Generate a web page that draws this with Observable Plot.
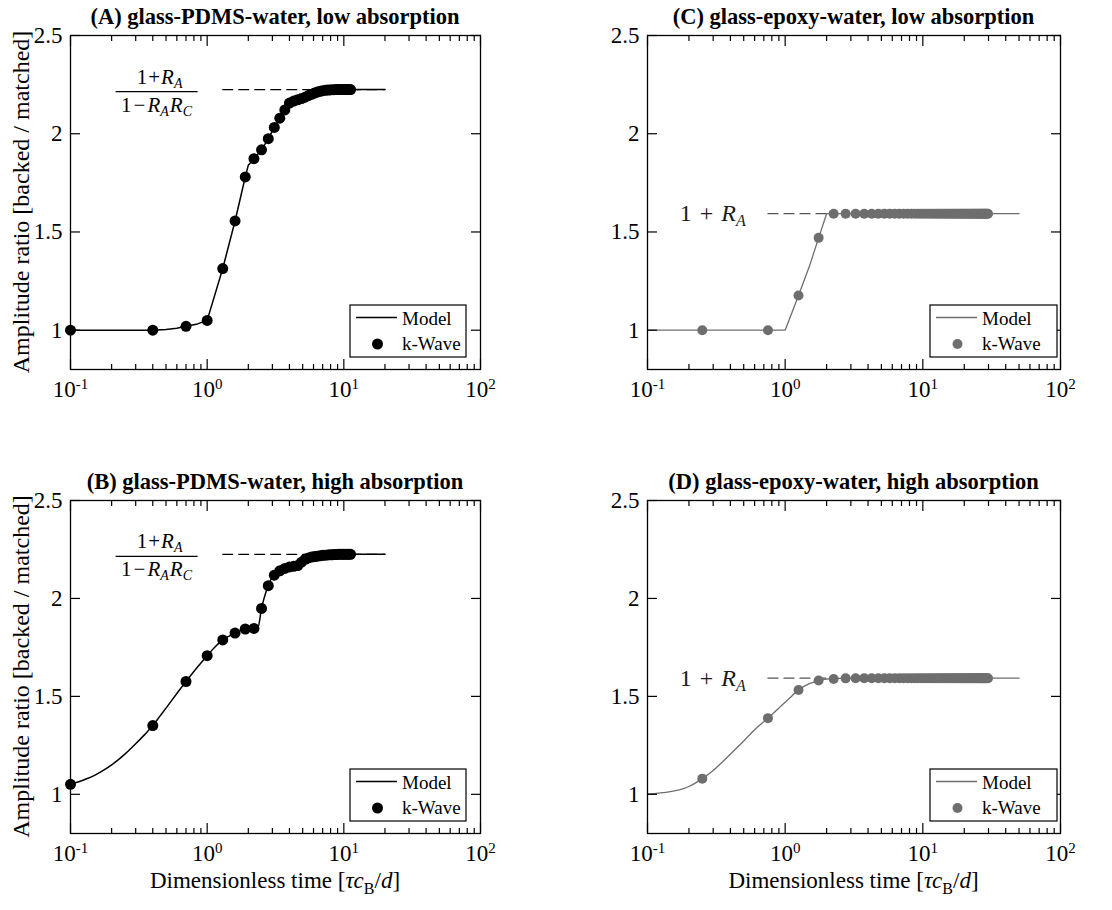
<!DOCTYPE html>
<html>
<head>
<meta charset="utf-8">
<script src="https://cdn.jsdelivr.net/npm/d3@7"></script>
<script src="https://cdn.jsdelivr.net/npm/@observablehq/plot@0.6"></script>
<style>
html,body{margin:0;padding:0;background:#fff;}
#fig{position:relative;width:1112px;height:910px;overflow:hidden;background:#fff;}
#fig svg{position:absolute;overflow:visible;}
#fig svg text{font-family:"Liberation Serif","Times New Roman",Times,serif;}
</style>
</head>
<body>
<div id="fig"></div>
<script>
// ---------- axis ticks / labels ----------
const xTicksMajor = [0.1, 1, 10, 100];
const xTickExponents = ["-1", "0", "1", "2"];
const xTicksMinor = [0.2,0.3,0.4,0.5,0.6,0.7,0.8,0.9,2,3,4,5,6,7,8,9,20,30,40,50,60,70,80,90];
const yTicks = [1, 1.5, 2, 2.5];
const yTickLabels = ["1", "1.5", "2", "2.5"];
const titles = [
  "(A) glass-PDMS-water, low absorption",
  "(B) glass-PDMS-water, high absorption",
  "(C) glass-epoxy-water, low absorption",
  "(D) glass-epoxy-water, high absorption"
];
const legendLabels = ["Model", "k-Wave"];
const yAxisLabel = "Amplitude ratio [backed / matched]";

// ---------- PDMS (A, B): k-Wave points ----------
const kWaveX_PDMS = [0.1,0.4,0.7,1.0,1.3,1.6,1.9,2.2,2.5,2.8,3.1,3.4,3.7,4.0,4.3,4.6,4.9,5.2,5.5,5.8,6.1,6.4,6.7,7.0,7.3,7.6,7.9,8.2,8.5,8.8,9.1,9.4,9.7,10.0,10.3,10.6,10.9,11.2];
const kWaveY_A = [1.0,1.0,1.02,1.05,1.314,1.556,1.78,1.873,1.918,1.975,2.032,2.079,2.121,2.156,2.166,2.173,2.179,2.186,2.194,2.201,2.207,2.212,2.216,2.219,2.221,2.222,2.223,2.224,2.224,2.225,2.225,2.225,2.225,2.225,2.225,2.225,2.225,2.225];
const kWaveY_B = [1.051,1.351,1.576,1.708,1.788,1.823,1.844,1.847,1.949,2.065,2.119,2.141,2.153,2.161,2.164,2.168,2.185,2.2,2.207,2.211,2.214,2.216,2.218,2.22,2.221,2.222,2.223,2.223,2.224,2.224,2.225,2.225,2.225,2.225,2.225,2.225,2.225,2.225];

// ---------- PDMS (A, B): model ----------
const modelX_A = [0.1,0.4,0.5,0.6,0.7,0.85,1.0,1.3,1.6,1.9,2.0,2.2,2.5,2.8,3.1,3.4,3.7,4.0,4.3,4.6,4.9,5.2,5.5,5.8,6.1,6.4,6.7,7.0,7.6,8.2,9.1,11.2,20];
const modelY_A = [1.0,1.0,1.004,1.01,1.02,1.032,1.05,1.314,1.556,1.78,1.84,1.873,1.918,1.975,2.032,2.079,2.121,2.156,2.166,2.173,2.179,2.186,2.194,2.201,2.207,2.212,2.216,2.219,2.222,2.224,2.225,2.225,2.225];
const modelX_B = [0.1,0.115,0.13,0.15,0.175,0.2,0.25,0.3,0.35,0.4,0.45,0.5,0.6,0.7,0.85,1.0,1.15,1.3,1.45,1.6,1.75,1.9,2.05,2.2,2.35,2.5,2.7,2.8,3.0,3.1,3.4,3.7,4.0,4.3,4.6,4.9,5.2,5.5,6.1,7.0,8.2,11.2,20];
const modelY_B = [1.051,1.064,1.078,1.097,1.123,1.15,1.205,1.258,1.306,1.351,1.398,1.44,1.515,1.576,1.65,1.708,1.755,1.788,1.808,1.823,1.836,1.844,1.846,1.847,1.85,1.949,2.035,2.065,2.11,2.119,2.141,2.153,2.161,2.164,2.166,2.18,2.198,2.207,2.214,2.22,2.224,2.225,2.225];

// ---------- epoxy (C, D): k-Wave points ----------
const kWaveX_epoxy = [0.25,0.75,1.25,1.75,2.25,2.75,3.25,3.75,4.25,4.75,5.25,5.75,6.25,6.75,7.25,7.75,8.25,8.75,9.25,9.75,10.25,10.75,11.25,11.75,12.25,12.75,13.25,13.75,14.25,14.75,15.25,15.75,16.25,16.75,17.25,17.75,18.25,18.75,19.25,19.75,20.25,20.75,21.25,21.75,22.25,22.75,23.25,23.75,24.25,24.75,25.25,25.75,26.25,26.75,27.25,27.75,28.25,28.75,29.25,29.75];
const kWaveY_C = [1.0,1.0,1.177,1.47,1.593,1.593,1.593,1.593,1.593,1.593,1.593,1.593,1.593,1.593,1.593,1.593,1.593,1.593,1.593,1.593,1.593,1.593,1.593,1.593,1.593,1.593,1.593,1.593,1.593,1.593,1.593,1.593,1.593,1.593,1.593,1.593,1.593,1.593,1.593,1.593,1.593,1.593,1.593,1.593,1.593,1.593,1.593,1.593,1.593,1.593,1.593,1.593,1.593,1.593,1.593,1.593,1.593,1.593,1.593,1.593];
const kWaveY_D = [1.08,1.389,1.533,1.581,1.589,1.592,1.593,1.593,1.593,1.593,1.593,1.593,1.593,1.593,1.593,1.593,1.593,1.593,1.593,1.593,1.593,1.593,1.593,1.593,1.593,1.593,1.593,1.593,1.593,1.593,1.593,1.593,1.593,1.593,1.593,1.593,1.593,1.593,1.593,1.593,1.593,1.593,1.593,1.593,1.593,1.593,1.593,1.593,1.593,1.593,1.593,1.593,1.593,1.593,1.593,1.593,1.593,1.593,1.593,1.593];

// ---------- epoxy (C, D): model ----------
const modelX_C = [0.1,1.0,1.25,1.5,1.75,2.0,50];
const modelY_C = [1.0,1.0,1.177,1.325,1.47,1.593,1.593];
const modelX_D = [0.1,0.12,0.15,0.18,0.2,0.25,0.3,0.35,0.4,0.5,0.6,0.75,0.9,1.0,1.1,1.25,1.5,1.75,2.0,2.5,3.0,50];
const modelY_D = [1.002,1.006,1.015,1.028,1.04,1.08,1.122,1.165,1.205,1.272,1.33,1.389,1.44,1.47,1.497,1.533,1.565,1.581,1.588,1.592,1.593,1.593];

// ---------- limits (dashed reference lines) ----------
const limitPDMS = 2.225;     // (1+R_A)/(1-R_A R_C)
const limitPDMS_X = [1.3, 20];
const limitEpoxy = 1.593;    // 1+R_A
const limitEpoxy_X = [0.75, 2.25];

// ---------- drawing ----------
const FONT = '"Liberation Serif", "Times New Roman", Times, serif';
const fig = document.getElementById("fig");

function drawPanel(p) {
  const W = 556, H = 455;
  const model = p.modelX.map((x, i) => ({x, y: p.modelY[i]}));
  const pts = p.ptsX.map((x, i) => ({x, y: p.ptsY[i]}));
  const dash = p.dashX.map(x => ({x, y: p.level}));
  const svg = Plot.plot({
    width: W, height: H,
    marginLeft: p.ml, marginRight: p.mr, marginTop: p.mt, marginBottom: p.mb,
    x: {type: "log", domain: [0.1, 100]},
    y: {domain: [0.8, 2.5]},
    style: {fontFamily: FONT, fontSize: "23px", color: "black", background: "transparent", overflow: "visible"},
    marks: [
      Plot.line(dash, {x: "x", y: "y", stroke: p.dashColor, strokeWidth: 1.3, strokeDasharray: "10,6"}),
      Plot.line(model, {x: "x", y: "y", stroke: p.color, strokeWidth: p.lw, curve: p.curve}),
      Plot.dot(pts, {x: "x", y: "y", r: p.r, fill: p.color, stroke: "none"}),
      Plot.axisX(xTicksMajor, {anchor: "bottom", tickSize: -10, tickPadding: 21, strokeWidth: 1.2,
        tickFormat: d => xTickExponents[xTicksMajor.indexOf(d)], label: null}),
      Plot.axisX(xTicksMinor, {anchor: "bottom", tickSize: -5, strokeWidth: 1.2, tickFormat: () => "", label: null}),
      Plot.axisX(xTicksMajor, {anchor: "top", tickSize: -10, strokeWidth: 1.2, tickFormat: () => "", label: null}),
      Plot.axisX(xTicksMinor, {anchor: "top", tickSize: -5, strokeWidth: 1.2, tickFormat: () => "", label: null}),
      Plot.axisY(yTicks, {anchor: "left", tickSize: -10, tickPadding: 18, strokeWidth: 1.2,
        tickFormat: d => yTickLabels[yTicks.indexOf(d)], label: null}),
      Plot.axisY(yTicks, {anchor: "right", tickSize: -10, strokeWidth: 1.2, tickFormat: () => "", label: null}),
      Plot.frame({stroke: "black", strokeWidth: 1.3})
    ]
  });
  svg.style.left = p.left + "px";
  svg.style.top = p.top + "px";
  fig.appendChild(svg);

  const sx = svg.scale("x"), sy = svg.scale("y");
  const g = d3.select(svg);
  const fL = p.ml, fR = W - p.mr, fT = p.mt, fB = H - p.mb;

  // superscript exponents on x tick labels
  g.selectAll('g[aria-label="x-axis tick label"] text').each(function () {
    const e = this.textContent;
    if (!e) return;
    const t = d3.select(this);
    t.text(null);
    t.append("tspan").text("10");
    t.append("tspan").attr("dy", "-8").attr("font-size", "15px").text(e);
  });

  const ann = g.append("g").attr("font-family", FONT).attr("text-anchor", "start");

  // title
  ann.append("text").attr("x", (fL + fR) / 2).attr("y", fT - 11)
    .attr("text-anchor", "middle").attr("font-weight", "bold").attr("font-size", 22.5)
    .text(p.title);

  // y label
  if (p.yLabel) {
    ann.append("text").attr("transform", `translate(29,${(fT + fB) / 2}) rotate(-90)`)
      .attr("text-anchor", "middle").attr("font-size", 24).text(yAxisLabel);
  }
  // x label
  if (p.xLabel) {
    const t = ann.append("text").attr("x", (fL + fR) / 2).attr("y", fB + 55)
      .attr("text-anchor", "middle").attr("font-size", 23);
    t.append("tspan").text("Dimensionless time [");
    t.append("tspan").attr("font-style", "italic").text("τc");
    t.append("tspan").attr("font-size", "16px").attr("dy", 6).text("B");
    t.append("tspan").attr("dy", -6).text("/");
    t.append("tspan").attr("font-style", "italic").text("d");
    t.append("tspan").text("]");
  }

  // limit annotation
  const ly = sy.apply(p.level);
  if (p.fraction) {
    const cx = sx.apply(p.annX), yb = ly + 2.5;
    const n = ann.append("text").attr("x", cx + 3).attr("y", yb - 8).attr("text-anchor", "middle")
      .attr("font-size", 21).attr("fill", p.textColor);
    n.append("tspan").text("1");
    n.append("tspan").attr("dx", 1).text("+");
    n.append("tspan").attr("dx", 1).attr("font-style", "italic").text("R");
    n.append("tspan").attr("font-style", "italic").attr("font-size", "14px").attr("dy", 4).text("A");
    ann.append("line").attr("x1", cx - 41).attr("x2", cx + 41).attr("y1", yb).attr("y2", yb)
      .attr("stroke", p.textColor).attr("stroke-width", 1.2);
    const d = ann.append("text").attr("x", cx).attr("y", yb + 20).attr("text-anchor", "middle")
      .attr("font-size", 21).attr("fill", p.textColor);
    d.append("tspan").text("1");
    d.append("tspan").attr("dx", 2).text("−");
    d.append("tspan").attr("dx", 2).attr("font-style", "italic").text("R");
    d.append("tspan").attr("font-style", "italic").attr("font-size", "14px").attr("dy", 4).text("A");
    d.append("tspan").attr("font-style", "italic").attr("dx", 1).attr("dy", -4).text("R");
    d.append("tspan").attr("font-style", "italic").attr("font-size", "14px").attr("dy", 4).text("C");
  } else {
    const cx = sx.apply(p.annX);
    const t = ann.append("text").attr("x", cx).attr("y", ly + 8).attr("text-anchor", "middle")
      .attr("font-size", 24).attr("fill", p.textColor);
    t.append("tspan").text("1");
    t.append("tspan").attr("dx", 8).text("+");
    t.append("tspan").attr("dx", 8).attr("font-style", "italic").text("R");
    t.append("tspan").attr("font-style", "italic").attr("font-size", "16px").attr("dy", 5).text("A");
  }

  // legend
  const bw = p.legW, bh = 52;
  const x0 = fR - p.legRight - bw, y0 = fB - 12 - bh;
  ann.append("rect").attr("x", x0).attr("y", y0).attr("width", bw).attr("height", bh)
    .attr("fill", "white").attr("stroke", "black").attr("stroke-width", 1.2);
  ann.append("line").attr("x1", x0 + 6).attr("x2", x0 + 47).attr("y1", y0 + 12.5).attr("y2", y0 + 12.5)
    .attr("stroke", p.color).attr("stroke-width", p.lw);
  ann.append("text").attr("x", x0 + 52).attr("y", y0 + 20).attr("font-size", 19).text(legendLabels[0]);
  ann.append("circle").attr("cx", x0 + 27.5).attr("cy", y0 + 39).attr("r", p.r).attr("fill", p.color);
  ann.append("text").attr("x", x0 + 52).attr("y", y0 + 45).attr("font-size", 19).text(legendLabels[1]);
}

const black = "#000000", gray = "#6e6e6e";

drawPanel({left: 0, top: 0, ml: 70, mr: 76, mt: 35, mb: 86, title: titles[0], yLabel: true, xLabel: false,
  modelX: modelX_A, modelY: modelY_A, ptsX: kWaveX_PDMS, ptsY: kWaveY_A, dashX: limitPDMS_X, level: limitPDMS, curve: "linear",
  color: black, dashColor: black, textColor: black, lw: 1.5, r: 5.5, fraction: true, annX: 0.43, legW: 116, legRight: 14});
drawPanel({left: 0, top: 455, ml: 70, mr: 76, mt: 45, mb: 77, title: titles[1], yLabel: true, xLabel: true,
  modelX: modelX_B, modelY: modelY_B, ptsX: kWaveX_PDMS, ptsY: kWaveY_B, dashX: limitPDMS_X, level: limitPDMS, curve: "monotone-x",
  color: black, dashColor: black, textColor: black, lw: 1.5, r: 5.5, fraction: true, annX: 0.43, legW: 116, legRight: 14});
drawPanel({left: 556, top: 0, ml: 91, mr: 52, mt: 35, mb: 86, title: titles[2], yLabel: false, xLabel: false,
  modelX: modelX_C, modelY: modelY_C, ptsX: kWaveX_epoxy, ptsY: kWaveY_C, dashX: limitEpoxy_X, level: limitEpoxy, curve: "linear",
  color: gray, dashColor: "#555555", textColor: "#1a1a1a", lw: 1.3, r: 5, fraction: false, annX: 0.3, legW: 127, legRight: 3});
drawPanel({left: 556, top: 455, ml: 91, mr: 52, mt: 45, mb: 77, title: titles[3], yLabel: false, xLabel: true,
  modelX: modelX_D, modelY: modelY_D, ptsX: kWaveX_epoxy, ptsY: kWaveY_D, dashX: limitEpoxy_X, level: limitEpoxy, curve: "monotone-x",
  color: gray, dashColor: "#555555", textColor: "#1a1a1a", lw: 1.3, r: 5, fraction: false, annX: 0.3, legW: 127, legRight: 3});
</script>
</body>
</html>
